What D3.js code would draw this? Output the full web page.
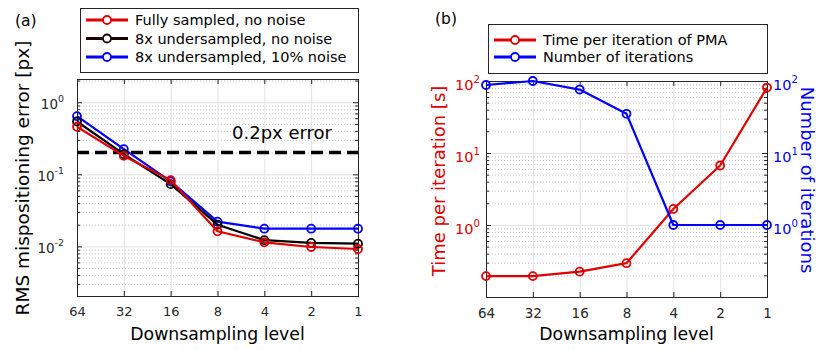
<!DOCTYPE html>
<html>
<head>
<meta charset="utf-8">
<script src="https://cdn.jsdelivr.net/npm/d3@7"></script>
<style>
  body { margin: 0; background: #fff; }
  text { font-family: "DejaVu Sans", sans-serif; }
</style>
</head>
<body>
<div id="chart"></div>
<script>
// downsampling levels (x axis, shared by both panels)
var levels = [64, 32, 16, 8, 4, 2, 1];

// panel (a): RMS mispositioning error [px]
var fullNoNoise  = [0.457, 0.180, 0.083, 0.0162, 0.0114, 0.0098, 0.0092];
var underNoNoise = [0.540, 0.190, 0.073, 0.0200, 0.0122, 0.0112, 0.0109];
var underNoise10 = [0.640, 0.223, 0.080, 0.0220, 0.0176, 0.0176, 0.0176];
var threshold = 0.2;
var legendA = ["Fully sampled, no noise", "8x undersampled, no noise", "8x undersampled, 10% noise"];

// panel (b): time per iteration [s] and number of iterations
var timePerIter = [0.195, 0.195, 0.225, 0.295, 1.67, 6.7, 81];
var numIters    = [88, 100, 76, 35, 1, 1, 1];
var legendB = ["Time per iteration of PMA", "Number of iterations"];

// tick labels
var errTicks = [0.01, 0.1, 1];
var timeTicks = [1, 10, 100];

var RED = "#e00000", BLUE = "#0000ff", DARK = "#1a0000", AX = "#262626";

var svg = d3.select("#chart")
  .append("svg")
  .attr("width", 819)
  .attr("height", 350);

function isDecade(v) {
  var l = Math.log10(v);
  return Math.abs(l - Math.round(l)) < 1e-6;
}

// draws grid, box and mirrored inward ticks like a matlab axes
function frame(box, x, y, decades) {
  var w = box.right - box.left, h = box.bottom - box.top;
  var minor = y.ticks().filter(function (v) { return !isDecade(v); });
  var g = svg.append("g");

  // minor grid (dotted)
  g.append("g")
    .attr("transform", "translate(" + box.left + ",0)")
    .call(d3.axisLeft(y).tickValues(minor).tickSize(-w).tickFormat(""))
    .call(function (s) { s.select(".domain").remove(); })
    .selectAll("line")
    .attr("stroke", "#c4c4c4")
    .attr("stroke-dasharray", "1,2");

  // major grid
  g.append("g")
    .attr("transform", "translate(" + box.left + ",0)")
    .call(d3.axisLeft(y).tickValues(decades).tickSize(-w).tickFormat(""))
    .call(function (s) { s.select(".domain").remove(); })
    .selectAll("line")
    .attr("stroke", "#e2e2e2");
  g.append("g")
    .attr("transform", "translate(0," + box.bottom + ")")
    .call(d3.axisBottom(x).tickValues(levels).tickSize(-h).tickFormat(""))
    .call(function (s) { s.select(".domain").remove(); })
    .selectAll("line")
    .attr("stroke", "#e2e2e2");

  // ticks, inward on all four sides
  var tk = [
    ["translate(" + box.left + ",0)", d3.axisLeft(y), decades, 5],
    ["translate(" + box.left + ",0)", d3.axisLeft(y), minor, 3],
    ["translate(" + box.right + ",0)", d3.axisRight(y), decades, 5],
    ["translate(" + box.right + ",0)", d3.axisRight(y), minor, 3],
    ["translate(0," + box.top + ")", d3.axisTop(x), levels, 5]
  ];
  tk.forEach(function (t) {
    g.append("g")
      .attr("transform", t[0])
      .call(t[1].tickValues(t[2]).tickSize(-t[3]).tickFormat(""))
      .call(function (s) { s.select(".domain").remove(); })
      .selectAll("line")
      .attr("stroke", AX);
  });

  // bottom axis with labels
  var xa = g.append("g")
    .attr("transform", "translate(0," + box.bottom + ")")
    .call(d3.axisBottom(x).tickValues(levels).tickSize(-5).tickSizeOuter(0).tickPadding(11)
      .tickFormat(d3.format("d")));
  xa.select(".domain").remove();
  xa.selectAll("line").attr("stroke", AX);
  xa.selectAll("text")
    .attr("fill", AX)
    .style("font-size", box.tickFont + "px")
    .style("font-family", "'DejaVu Sans', sans-serif");

  g.append("rect")
    .attr("x", box.left + 0.5)
    .attr("y", box.top + 0.5)
    .attr("width", w)
    .attr("height", h)
    .attr("fill", "none")
    .attr("stroke", AX)
    .attr("stroke-width", 1);

  // x axis label
  svg.append("text")
    .attr("x", (box.left + box.right) / 2)
    .attr("y", 340)
    .attr("text-anchor", "middle")
    .style("font-size", "17.3px")
    .text("Downsampling level");
}

// "10^n" tick labels
function powLabels(y, ticks, xPos, anchor, color, size, off) {
  ticks.forEach(function (v) {
    var t = svg.append("text")
      .attr("x", xPos)
      .attr("y", y(v) + off)
      .attr("text-anchor", anchor)
      .attr("fill", color)
      .style("font-size", size + "px")
      .text("10");
    t.append("tspan")
      .attr("dy", -size * 0.48)
      .style("font-size", (size * 0.7) + "px")
      .text(Math.round(Math.log10(v)));
  });
}

function series(x, y, vals, color) {
  var pts = levels.map(function (l, i) { return [l, vals[i]]; });
  svg.append("path")
    .datum(pts)
    .attr("fill", "none")
    .attr("stroke", color)
    .attr("stroke-width", 2.2)
    .attr("stroke-linejoin", "round")
    .attr("d", d3.line()
      .x(function (d) { return x(d[0]); })
      .y(function (d) { return y(d[1]); }));
  svg.selectAll(null)
    .data(pts)
    .enter()
    .append("circle")
    .attr("cx", function (d) { return x(d[0]); })
    .attr("cy", function (d) { return y(d[1]); })
    .attr("r", 4)
    .attr("fill", "none")
    .attr("stroke", color)
    .attr("stroke-width", 1.8);
}

function legend(bx, by, bw, bh, rows, names, colors) {
  svg.append("rect")
    .attr("x", bx + 0.5).attr("y", by + 0.5)
    .attr("width", bw).attr("height", bh)
    .attr("fill", "#fff")
    .attr("stroke", AX);
  names.forEach(function (n, i) {
    var ly = rows[i];
    svg.append("line")
      .attr("x1", bx + 6).attr("x2", bx + 48)
      .attr("y1", ly).attr("y2", ly)
      .attr("stroke", colors[i]).attr("stroke-width", 3);
    svg.append("circle")
      .attr("cx", bx + 27).attr("cy", ly).attr("r", 4)
      .attr("fill", "#fff")
      .attr("stroke", colors[i]).attr("stroke-width", 1.8);
    svg.append("text")
      .attr("x", bx + 55).attr("y", ly + 5.2)
      .style("font-size", "14.5px")
      .text(n);
  });
}

// ---------- panel (a) ----------
var boxA = { left: 77, right: 358, top: 79, bottom: 296, tickFont: 13 };
var xA = d3.scaleLog().base(2).domain([64, 1]).range([boxA.left, boxA.right]);
var yA = d3.scaleLog().domain([0.00205, 2.1]).range([boxA.bottom, boxA.top]);

frame(boxA, xA, yA, errTicks);
powLabels(yA, errTicks, 64, "end", AX, 13.5, 6.5);

svg.append("line")
  .attr("x1", boxA.left).attr("x2", boxA.right)
  .attr("y1", yA(threshold)).attr("y2", yA(threshold))
  .attr("stroke", "#000")
  .attr("stroke-width", 3.5)
  .attr("stroke-dasharray", "12,6");
svg.append("text")
  .attr("x", 232).attr("y", 139)
  .style("font-size", "18px")
  .text("0.2px error");

series(xA, yA, underNoise10, BLUE);
series(xA, yA, underNoNoise, "#000");
series(xA, yA, fullNoNoise, RED);

svg.append("text")
  .attr("transform", "translate(29,178) rotate(-90)")
  .attr("text-anchor", "middle")
  .style("font-size", "18.5px")
  .text("RMS mispositioning error [px]");

svg.append("text")
  .attr("x", 15).attr("y", 26)
  .style("font-size", "15.5px")
  .text("(a)");

legend(80, 8, 278, 64, [20, 38.5, 57], legendA, [RED, DARK, BLUE]);

// ---------- panel (b) ----------
var boxB = { left: 486, right: 767, top: 81, bottom: 297, tickFont: 13.5 };
var xB = d3.scaleLog().base(2).domain([64, 1]).range([boxB.left, boxB.right]);
var yT = d3.scaleLog().domain([0.1, 100]).range([boxB.bottom, boxB.top]);
var yN = d3.scaleLog().domain([0.1, 100]).range([boxB.bottom, boxB.top]);

frame(boxB, xB, yT, timeTicks);
powLabels(yT, timeTicks, 480, "end", RED, 14.5, 9);
powLabels(yN, timeTicks, 773, "start", BLUE, 14.5, 9);

series(xB, yT, timePerIter, RED);
series(xB, yN, numIters, BLUE);

svg.append("text")
  .attr("transform", "translate(445,181) rotate(-90)")
  .attr("text-anchor", "middle")
  .attr("fill", RED)
  .style("font-size", "18px")
  .text("Time per iteration [s]");

svg.append("text")
  .attr("transform", "translate(801,180) rotate(90)")
  .attr("text-anchor", "middle")
  .attr("fill", BLUE)
  .style("font-size", "18px")
  .text("Number of iterations");

svg.append("text")
  .attr("x", 435).attr("y", 24)
  .style("font-size", "15.5px")
  .text("(b)");

legend(488, 24, 279, 49, [40, 57], legendB, [RED, BLUE]);
</script>
</body>
</html>
